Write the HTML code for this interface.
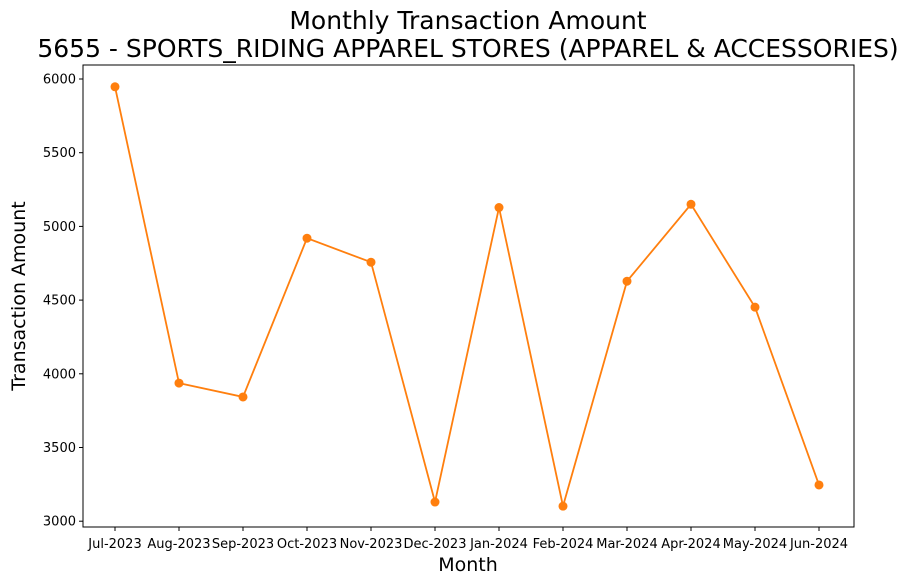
<!DOCTYPE html>
<html><head><meta charset="utf-8"><style>
body{margin:0;background:#fff;}
svg{display:block;font-family:"DejaVu Sans","Liberation Sans",sans-serif;}
</style></head><body>
<svg id="chart" width="908" height="585">
<text x="468" y="29" text-anchor="middle" font-size="25">Monthly Transaction Amount</text>
<text x="468" y="57" text-anchor="middle" font-size="25">5655 - SPORTS_RIDING APPAREL STORES (APPAREL &amp; ACCESSORIES)</text>
<rect x="83" y="65" width="771" height="462" fill="none" stroke="#000" stroke-width="1"/>
<g id="yticks"></g><g id="xticks"></g><g id="series"></g>
<text x="468" y="571" text-anchor="middle" font-size="19">Month</text>
<text transform="translate(25,296) rotate(-90)" text-anchor="middle" font-size="19">Transaction Amount</text>
</svg>
<script>
const categories=["Jul-2023","Aug-2023","Sep-2023","Oct-2023","Nov-2023","Dec-2023","Jan-2024","Feb-2024","Mar-2024","Apr-2024","May-2024","Jun-2024"];
const values=[5947,3937,3843,4920,4757,3130,5128,3102,4628,5150,4452,3246];
const yTicks=[3000,3500,4000,4500,5000,5500,6000];
const NS="http://www.w3.org/2000/svg";
function xs(i){return 115+i*64;}
function ys(v){return 79+(6000-v)/500*73.7;}
function mk(t,a,p){const e=document.createElementNS(NS,t);for(const k in a)e.setAttribute(k,a[k]);p.appendChild(e);return e;}
const yg=document.getElementById('yticks'),xg=document.getElementById('xticks'),sg=document.getElementById('series');
yTicks.forEach(v=>{
 const l=mk('line',{x1:79,x2:83,y1:ys(v),y2:ys(v),stroke:'#000'},yg);
 
 
 const t=mk('text',{x:76,y:ys(v)+4.5,'text-anchor':'end','font-size':13},yg);
 t.textContent=v;
 
 
});
categories.forEach((c,i)=>{
 const l=mk('line',{x1:xs(i),x2:xs(i),y1:527,y2:531,stroke:'#000'},xg);
 
 
 const t=mk('text',{x:xs(i),y:548,'text-anchor':'middle','font-size':13},xg);
 t.textContent=c;
 
 
});
const pl=mk('polyline',{points:values.map((v,i)=>xs(i)+','+ys(v)).join(' '),fill:'none',stroke:'#ff7f0e','stroke-width':1.8},sg);


values.forEach((v,i)=>{
 const c=mk('circle',{cx:xs(i),cy:ys(v),r:4.5,fill:'#ff7f0e'},sg);
 
 
});
</script>
</body></html>
